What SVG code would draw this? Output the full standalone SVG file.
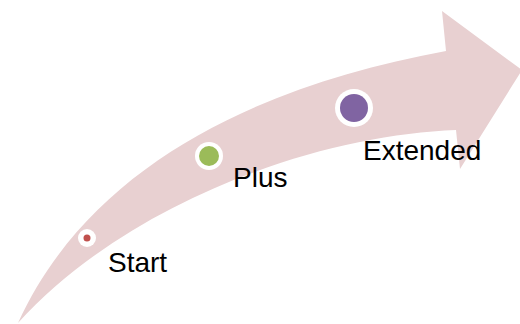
<svg xmlns="http://www.w3.org/2000/svg" width="520" height="324" viewBox="0 0 520 324">
<style>
.lbl{font-family:"Liberation Sans",Arial,sans-serif;font-size:28px;fill:#000}
.ring{fill:#fff}
</style>
<rect width="520" height="324" fill="#fff"/>
<g id="arrow">
<path d="M18,323 C90,165 260,85 446,51 L442,11 L522,70 L460,169 L456,130 C320,135 130,200 18,323 Z" fill="#e8d0d1"/>
</g>
<g id="start">
<circle class="ring" cx="87" cy="238" r="9"/>
<circle cx="87" cy="238" r="3.5" fill="#c0504d"/>
<text class="lbl" x="108" y="272">Start</text>
</g>
<g id="plus">
<circle class="ring" cx="209" cy="156" r="14"/>
<circle cx="209" cy="156" r="10" fill="#9bbb59"/>
<text class="lbl" x="233" y="187">Plus</text>
</g>
<g id="extended">
<circle class="ring" cx="354" cy="108" r="19"/>
<circle cx="354" cy="108" r="14" fill="#8064a2"/>
<text class="lbl" x="363" y="160">Extended</text>
</g>
</svg>
